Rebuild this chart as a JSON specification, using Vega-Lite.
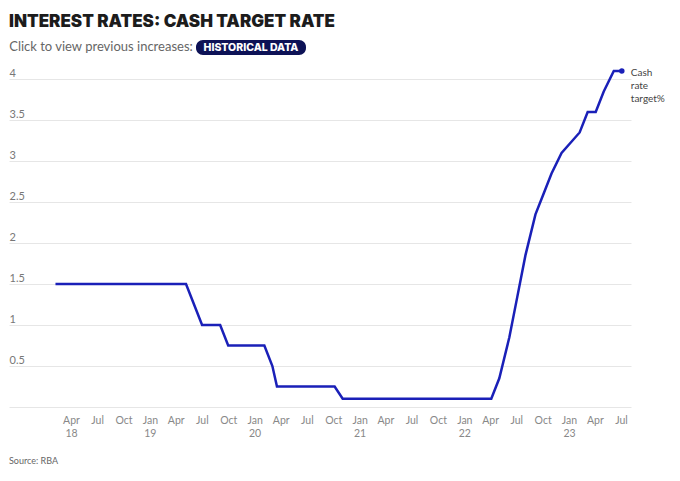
{
  "$schema": "https://vega.github.io/schema/vega-lite/v6.json",
  "background": "white",
  "padding": {"left": 8, "top": 13, "right": 0, "bottom": 0},
  "config": {"view": {"stroke": null}, "font": "Lato"},
  "title": {"text": "INTEREST RATES: CASH TARGET RATE", "anchor": "start", "fontSize": 17, "fontWeight": 900, "color": "#1c1c1c", "font": "Inter", "offset": 9},
  "spacing": 11,
  "vconcat": [
    {
      "spacing": 2,
      "hconcat": [
        {
          "width": 184,
          "height": 14,
          "data": {"values": [{"t": "Click to view previous increases:"}]},
          "mark": {"type": "text", "fontSize": 13, "color": "#666666", "font": "Lato"},
          "encoding": {"text": {"field": "t"}}
        },
        {
          "width": 110,
          "height": 15,
          "data": {"values": [{"t": "HISTORICAL DATA"}]},
          "layer": [
            {"mark": {"type": "rect", "color": "#0d1256", "cornerRadius": 7}, "encoding": {}},
            {"mark": {"type": "text", "color": "white", "fontWeight": 800, "fontSize": 10.5, "font": "Inter"}, "encoding": {"text": {"field": "t"}}}
          ]
        }
      ]
    },
    {
      "width": 622,
      "height": 336,
      "title": {"text": "Source: RBA", "orient": "bottom", "anchor": "start", "fontSize": 9, "fontWeight": "normal", "color": "#666666", "offset": 18, "font": "Lato"},
      "data": {
        "values": [
          {"date": "2018-02-06", "rate": 1.5}, {"date": "2018-03-06", "rate": 1.5}, {"date": "2018-04-03", "rate": 1.5},
          {"date": "2018-05-01", "rate": 1.5}, {"date": "2018-06-05", "rate": 1.5}, {"date": "2018-07-03", "rate": 1.5},
          {"date": "2018-08-07", "rate": 1.5}, {"date": "2018-09-04", "rate": 1.5}, {"date": "2018-10-02", "rate": 1.5},
          {"date": "2018-11-06", "rate": 1.5}, {"date": "2018-12-04", "rate": 1.5},
          {"date": "2019-02-05", "rate": 1.5}, {"date": "2019-03-05", "rate": 1.5}, {"date": "2019-04-02", "rate": 1.5},
          {"date": "2019-05-07", "rate": 1.5}, {"date": "2019-06-04", "rate": 1.25}, {"date": "2019-07-02", "rate": 1.0},
          {"date": "2019-08-06", "rate": 1.0}, {"date": "2019-09-03", "rate": 1.0}, {"date": "2019-10-01", "rate": 0.75},
          {"date": "2019-11-05", "rate": 0.75}, {"date": "2019-12-03", "rate": 0.75},
          {"date": "2020-02-04", "rate": 0.75}, {"date": "2020-03-03", "rate": 0.5}, {"date": "2020-03-19", "rate": 0.25},
          {"date": "2020-04-07", "rate": 0.25}, {"date": "2020-05-05", "rate": 0.25}, {"date": "2020-06-02", "rate": 0.25},
          {"date": "2020-07-07", "rate": 0.25}, {"date": "2020-08-04", "rate": 0.25}, {"date": "2020-09-01", "rate": 0.25},
          {"date": "2020-10-06", "rate": 0.25}, {"date": "2020-11-03", "rate": 0.1}, {"date": "2020-12-01", "rate": 0.1},
          {"date": "2021-02-02", "rate": 0.1}, {"date": "2021-03-02", "rate": 0.1}, {"date": "2021-04-06", "rate": 0.1},
          {"date": "2021-05-04", "rate": 0.1}, {"date": "2021-06-01", "rate": 0.1}, {"date": "2021-07-06", "rate": 0.1},
          {"date": "2021-08-03", "rate": 0.1}, {"date": "2021-09-07", "rate": 0.1}, {"date": "2021-10-05", "rate": 0.1},
          {"date": "2021-11-02", "rate": 0.1}, {"date": "2021-12-07", "rate": 0.1},
          {"date": "2022-02-01", "rate": 0.1}, {"date": "2022-03-01", "rate": 0.1}, {"date": "2022-04-05", "rate": 0.1},
          {"date": "2022-05-03", "rate": 0.35}, {"date": "2022-06-07", "rate": 0.85}, {"date": "2022-07-05", "rate": 1.35},
          {"date": "2022-08-02", "rate": 1.85}, {"date": "2022-09-06", "rate": 2.35}, {"date": "2022-10-04", "rate": 2.6},
          {"date": "2022-11-01", "rate": 2.85}, {"date": "2022-12-06", "rate": 3.1},
          {"date": "2023-02-07", "rate": 3.35}, {"date": "2023-03-07", "rate": 3.6}, {"date": "2023-04-04", "rate": 3.6},
          {"date": "2023-05-02", "rate": 3.85}, {"date": "2023-06-06", "rate": 4.1}, {"date": "2023-07-04", "rate": 4.1}
        ],
        "format": {"parse": {"date": "utc:'%Y-%m-%d'"}}
      },
      "encoding": {
        "x": {
          "field": "date",
          "type": "temporal",
          "scale": {"type": "utc", "domain": [{"year": 2017, "month": 8, "date": 28, "utc": true}, {"year": 2023, "month": 8, "date": 5, "utc": true}]},
          "axis": {
            "title": null,
            "grid": false,
            "domain": false,
            "ticks": false,
            "tickSize": 0,
            "labelPadding": 8,
            "labelFont": "Lato",
            "labelFontSize": 10.5,
            "labelColor": "#888888",
            "labelLineHeight": 13,
            "labelFlush": false,
            "labelOverlap": false,
            "values": [
              {"year": 2018, "month": 4, "date": 1, "utc": true}, {"year": 2018, "month": 7, "date": 1, "utc": true}, {"year": 2018, "month": 10, "date": 1, "utc": true},
              {"year": 2019, "month": 1, "date": 1, "utc": true}, {"year": 2019, "month": 4, "date": 1, "utc": true}, {"year": 2019, "month": 7, "date": 1, "utc": true}, {"year": 2019, "month": 10, "date": 1, "utc": true},
              {"year": 2020, "month": 1, "date": 1, "utc": true}, {"year": 2020, "month": 4, "date": 1, "utc": true}, {"year": 2020, "month": 7, "date": 1, "utc": true}, {"year": 2020, "month": 10, "date": 1, "utc": true},
              {"year": 2021, "month": 1, "date": 1, "utc": true}, {"year": 2021, "month": 4, "date": 1, "utc": true}, {"year": 2021, "month": 7, "date": 1, "utc": true}, {"year": 2021, "month": 10, "date": 1, "utc": true},
              {"year": 2022, "month": 1, "date": 1, "utc": true}, {"year": 2022, "month": 4, "date": 1, "utc": true}, {"year": 2022, "month": 7, "date": 1, "utc": true}, {"year": 2022, "month": 10, "date": 1, "utc": true},
              {"year": 2023, "month": 1, "date": 1, "utc": true}, {"year": 2023, "month": 4, "date": 1, "utc": true}, {"year": 2023, "month": 7, "date": 1, "utc": true}
            ],
            "labelExpr": "(utcmonth(datum.value) == 0 || datum.index == 0) ? [utcFormat(datum.value, '%b'), utcFormat(datum.value, '%y')] : utcFormat(datum.value, '%b')"
          }
        },
        "y": {
          "field": "rate",
          "type": "quantitative",
          "scale": {"domain": [0, 4.1], "nice": false, "zero": true},
          "axis": {
            "title": null,
            "values": [0, 0.5, 1, 1.5, 2, 2.5, 3, 3.5, 4],
            "grid": true,
            "gridColor": "#e6e6e6",
            "gridWidth": 1,
            "domain": false,
            "ticks": false,
            "tickSize": 0,
            "labelAlign": "left",
            "labelBaseline": "alphabetic",
            "labelPadding": 0,
            "labelOffset": -3,
            "labelFont": "Lato",
            "labelFontSize": 11,
            "labelColor": "#777777",
            "labelExpr": "datum.value == 0 ? '' : format(datum.value, '~g')"
          }
        }
      },
      "layer": [
        {"mark": {"type": "line", "color": "#1a20b8", "strokeWidth": 2.5}},
        {
          "transform": [{"filter": "utcyear(datum.date) == 2023 && utcmonth(datum.date) == 6"}],
          "mark": {"type": "point", "filled": true, "size": 30, "color": "#1a20b8", "opacity": 1}
        },
        {
          "transform": [{"filter": "utcyear(datum.date) == 2023 && utcmonth(datum.date) == 6"}],
          "mark": {"type": "text", "align": "left", "baseline": "top", "dx": 9, "dy": -3, "fontSize": 10, "color": "#444444", "lineBreak": " ", "lineHeight": 13, "font": "Lato"},
          "encoding": {"text": {"value": "Cash rate target%"}}
        }
      ]
    }
  ]
}
